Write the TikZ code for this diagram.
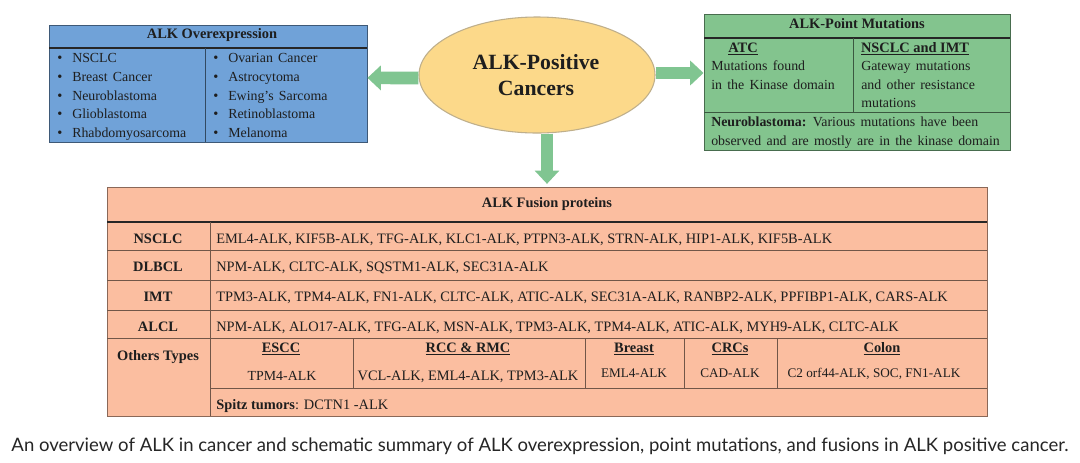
\documentclass[tikz,border=0pt]{standalone}
\usepackage{fontspec}
\setmainfont{Liberation Serif}
\newfontfamily\captionfont{Lato}
\usetikzlibrary{
    arrows.meta,
    fit,
    shapes.geometric
}
\definecolor{over blue}{RGB}{112,162,216}
\definecolor{point green}{RGB}{131,196,142}
\definecolor{fusion orange}{RGB}{251,190,160}
\definecolor{arrow green}{RGB}{128,197,145}
\definecolor{ellipse yellow}{RGB}{252,217,138}
\definecolor{ink}{RGB}{30,30,30}
\tikzset{
    % Boxes
    table box/.style={draw=#1!55!black,line width=.7pt,inner sep=0pt,fill=#1},
    big oval/.style={ellipse,draw=black!35!ellipse yellow!70!white,line width=.8pt,fill=ellipse yellow,inner sep=0pt,align=center},
    %
    % Rules
    thin rule/.style={draw=#1!45!black,line width=.75pt},
    thick rule/.style={draw=black!85,line width=1.6pt},
    %
    % Arrows
    block arrow/.style={draw=arrow green,line width=9.5pt,-{Triangle[width=18pt,length=10pt]}},
    %
    % Text
    body/.style={font=\fontsize{10.8}{12}\selectfont,text=ink,inner sep=0pt},
    lefttext/.style={body,anchor=base west},
    midtext/.style={body,anchor=base},
    headtext/.style={body,anchor=base,font=\fontsize{10.8}{12}\selectfont\bfseries},
    widetext/.style={lefttext,font=\fontsize{10.4}{12}\selectfont,execute at begin node={\spaceskip=.38em\relax}}
}
\begin{document}
\begin{tikzpicture}[x=.75pt,y=-.75pt]
    \useasboundingbox (0,0) rectangle (1080,462);
    \fill[white] (0,0) rectangle (1080,462);
    %
    % Oval in the middle
    \node[big oval,minimum width=177pt,minimum height=87pt] (oval) at (537,75) {};
    \node[headtext,font=\fontsize{16.3}{16}\selectfont\bfseries] (ovaltop) at (536,69) {ALK-Positive};
    \node[headtext,font=\fontsize{16.3}{16}\selectfont\bfseries] (ovalbot) at (536,95) {Cancers};
    %
    % Overexpression table
    \node[table box=over blue,fit={(49,25)(367,142)}] (overbox) {};
    \draw[thick rule] (49,48) -- (367,48);
    \draw[thin rule=over blue] (205,48) -- (205,142);
    \node[headtext] (overhead) at (212,38) {ALK Overexpression};
    \foreach \y/\lname/\rname in {62/NSCLC/Ovarian Cancer,81/Breast Cancer/Astrocytoma,100/Neuroblastoma/Ewing's Sarcoma,118/Glioblastoma/Retinoblastoma,137/Rhabdomyosarcoma/Melanoma}{
        \node[widetext] (overl\y) at (72,\y) {\lname};
        \node[widetext] (overr\y) at (228,\y) {\rname};
        \node[lefttext] (bulletl\y) at (57,\y) {\textbullet};
        \node[lefttext] (bulletr\y) at (213,\y) {\textbullet};
    }
    %
    % Point mutation table
    \node[table box=point green,fit={(704,14)(1010,150)}] (pointbox) {};
    \draw[thick rule] (704,38) -- (1010,38);
    \draw[thin rule=point green] (853,38) -- (853,112);
    \draw[thin rule=point green] (704,112) -- (1010,112);
    \node[headtext] (pointhead) at (857,28) {ALK-Point Mutations};
    \node[headtext] (atc) at (743,52) {\underline{ATC}};
    \node[headtext] (gateway) at (915,52) {\underline{NSCLC and IMT}};
    \node[widetext] (atcone) at (711,70) {Mutations found};
    \node[widetext] (atctwo) at (711,89) {in the Kinase domain};
    \node[widetext] (gateone) at (861,70) {Gateway mutations};
    \node[widetext] (gatetwo) at (861,89) {and other resistance};
    \node[widetext] (gatethree) at (861,107) {mutations};
    \node[widetext] (neuroone) at (711,126) {\textbf{Neuroblastoma:} Various mutations have been};
    \node[widetext] (neurotwo) at (711,145) {observed and are mostly are in the kinase domain};
    %
    % Fusion table
    \node[table box=fusion orange,fit={(107,187)(987,416)}] (fusionbox) {};
    \draw[thick rule] (107,222) -- (987,222);
    \foreach \y in {250,280,310,338}{
        \draw[thin rule=fusion orange] (107,\y) -- (987,\y);
    }
    \draw[thin rule=fusion orange] (210,222) -- (210,416);
    \draw[thin rule=fusion orange] (210,388) -- (987,388);
    \foreach \x in {353,585,684,777}{
        \draw[thin rule=fusion orange] (\x,338) -- (\x,388);
    }
    \node[headtext] (fusionhead) at (547,207) {ALK Fusion proteins};
    \foreach \y/\rowname/\genes in {
        243/NSCLC/{EML4-ALK, KIF5B-ALK, TFG-ALK, KLC1-ALK, PTPN3-ALK, STRN-ALK, HIP1-ALK, KIF5B-ALK},
        271/DLBCL/{NPM-ALK, CLTC-ALK, SQSTM1-ALK, SEC31A-ALK},
        301/IMT/{TPM3-ALK, TPM4-ALK, FN1-ALK, CLTC-ALK, ATIC-ALK, SEC31A-ALK, RANBP2-ALK, PPFIBP1-ALK, CARS-ALK},
        331/ALCL/{NPM-ALK, ALO17-ALK, TFG-ALK, MSN-ALK, TPM3-ALK, TPM4-ALK, ATIC-ALK, MYH9-ALK, CLTC-ALK}}{
        \node[headtext] (row\y) at (158,\y) {\rowname};
        \node[lefttext] (genes\y) at (216,\y) {\genes};
    }
    \node[headtext] (others) at (158,360) {Others Types};
    \foreach \x/\typename in {281/ESCC,468/RCC \& RMC,634/Breast,730/CRCs,882/Colon}{
        \node[headtext] (type\x) at (\x,352) {\underline{\typename}};
    }
    \node[midtext,font=\fontsize{10.4}{12}\selectfont] (geneescc) at (282,380) {TPM4-ALK};
    \node[midtext] (generenal) at (468,380) {VCL-ALK, EML4-ALK, TPM3-ALK};
    \foreach \x/\gene in {634/EML4-ALK,730/CAD-ALK,874/{C2 orf44-ALK, SOC, FN1-ALK}}{
        \node[midtext,font=\fontsize{9.9}{12}\selectfont] (gene\x) at (\x,377) {\gene};
    }
    \node[lefttext] (spitz) at (216,409) {\textbf{Spitz tumors}: DCTN1 -ALK};
    %
    % Arrows out of the oval
    \draw[block arrow] ([yshift=-2.25pt]oval.west) -- ([yshift=4.25pt]overbox.east);
    \draw[block arrow] ([yshift=1.5pt]oval.east) -- ([yshift=6.75pt]pointbox.west);
    \draw[block arrow,shorten >=2pt] ([xshift=7.5pt]oval.south) -- (fusionbox.north);
    %
    \node[anchor=base,inner sep=0pt,text=black!85,font=\captionfont\fontsize{13.9}{16}\selectfont] (caption) at (540,451) {An overview of ALK in cancer and schematic summary of ALK overexpression, point mutations, and fusions in ALK positive cancer.};
\end{tikzpicture}
\end{document}
